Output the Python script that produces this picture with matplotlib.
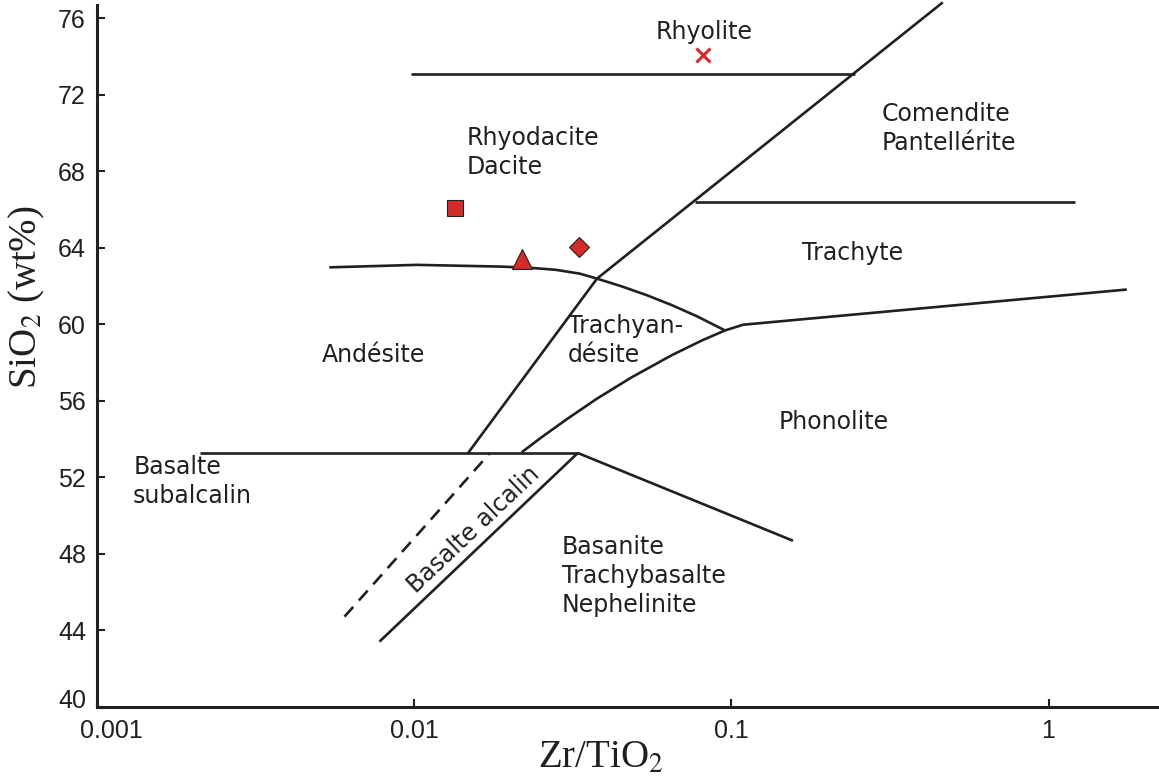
import numpy as np
import matplotlib.pyplot as plt
import matplotlib.transforms as mtransforms
from matplotlib.ticker import NullLocator, FixedLocator, FixedFormatter

plt.rcParams['mathtext.fontset'] = 'stix'

ink = '#231f20'
red = '#d52b2b'

# field boundaries, Zr/TiO2 vs SiO2 (wt%)
rhyolite_x = [0.0098, 0.245]
rhyolite_y = [73.1, 73.1]

diag_x = [0.01479, 0.0377, 0.464]
diag_y = [53.27, 62.39, 76.84]

comendite_x = [0.0767, 1.21]
comendite_y = [66.41, 66.41]

andesite_x = [0.0054, 0.0102, 0.0187, 0.0230, 0.0280, 0.0333, 0.0377, 0.0452, 0.0542, 0.0650, 0.0779, 0.0955]
andesite_y = [62.98, 63.11, 63.02, 62.96, 62.85, 62.65, 62.39, 61.98, 61.52, 61.00, 60.42, 59.68]

trachyand_x = [0.0218, 0.0252, 0.0303, 0.0376, 0.0485, 0.0648, 0.0806, 0.0955, 0.109, 1.766]
trachyand_y = [53.30, 54.09, 55.04, 56.10, 57.23, 58.38, 59.15, 59.68, 59.98, 61.82]

basalt_x = [0.00211, 0.0328]
basalt_y = [53.27, 53.27]

basanite_x = [0.0328, 0.1564]
basanite_y = [53.27, 48.68]

alcalin_x = [0.00777, 0.0328]
alcalin_y = [43.40, 53.27]

dashed_x = [0.00603, 0.01734]
dashed_y = [44.71, 53.27]

# samples
cross_x, cross_y = [0.0813], [74.07]
square_x, square_y = [0.01345], [66.09]
triangle_x, triangle_y = [0.0218], [63.42]
diamond_x, diamond_y = [0.0330], [64.03]

fig = plt.figure(figsize=(11.59, 7.77), dpi=100)
ax = fig.add_axes([0.0837, 0.0905, 0.9163, 0.903])
ax.set_xscale('log')
ax.set_xlim(0.001, 2.23)
ax.set_ylim(40, 76.7)

lw = 1.9
for xs, ys in [(rhyolite_x, rhyolite_y), (comendite_x, comendite_y), (andesite_x, andesite_y),
               (trachyand_x, trachyand_y), (basalt_x, basalt_y), (basanite_x, basanite_y),
               (alcalin_x, alcalin_y)]:
    ax.plot(xs, ys, color=ink, lw=lw, solid_capstyle='butt', solid_joinstyle='round')
ax.plot(diag_x, diag_y, color=ink, lw=lw, clip_on=False, solid_capstyle='butt')
ax.plot(dashed_x, dashed_y, color=ink, lw=lw, ls=(0, (5, 3.2)))

ax.plot(cross_x, cross_y, 'x', color=red, ms=10, mew=2.2)
ax.plot(square_x, square_y, 's', mfc=red, mec=ink, mew=0.8, ms=12)
ax.plot(triangle_x, triangle_y, '^', mfc=red, mec=ink, mew=0.8, ms=14)
ax.plot(diamond_x, diamond_y, 'D', mfc=red, mec=ink, mew=0.8, ms=10)

tfont = dict(family='DejaVu Sans', fontsize=17, color=ink, linespacing=1.27)
ax.text(0.0819, 75.27, 'Rhyolite', ha='center', va='center', **tfont)
ax.text(0.01467, 68.99, 'Rhyodacite\nDacite', ha='left', va='center', **tfont)
ax.text(0.298, 70.25, 'Comendite\nPantellérite', ha='left', va='center', **tfont)
ax.text(0.167, 63.75, 'Trachyte', ha='left', va='center', **tfont)
ax.text(0.0305, 59.15, 'Trachyan-\ndésite', ha='left', va='center', **tfont)
ax.text(0.00512, 58.41, 'Andésite', ha='left', va='center', **tfont)
ax.text(0.1413, 54.9, 'Phonolite', ha='left', va='center', **tfont)
ax.text(0.0013, 51.76, 'Basalte\nsubalcalin', ha='left', va='center', **tfont)
ax.text(0.0292, 46.84, 'Basanite\nTrachybasalte\nNephelinite', ha='left', va='center', **tfont)
ax.text(0.01543, 49.25, 'Basalte alcalin', ha='center', va='center', rotation=43.5, **tfont)

for s in ['top', 'right']:
    ax.spines[s].set_visible(False)
for s in ['left', 'bottom']:
    ax.spines[s].set_linewidth(2.2)
    ax.spines[s].set_color(ink)

ax.xaxis.set_major_locator(FixedLocator([0.001, 0.01, 0.1, 1]))
ax.xaxis.set_major_formatter(FixedFormatter(['0.001', '0.01', '0.1', '1']))
ax.xaxis.set_minor_locator(NullLocator())
ax.set_yticks(np.arange(40, 77, 4))
ax.tick_params(direction='in', length=6, width=1.5, color=ink, labelsize=18, labelcolor=ink)
ax.tick_params(axis='y', pad=8)
ax.tick_params(axis='x', pad=9)
for lab in ax.get_xticklabels() + ax.get_yticklabels():
    lab.set_family('Liberation Sans')

# lift "40" and push "0.001" right so the corner labels clear each other
lab40 = ax.yaxis.get_major_ticks()[0].label1
lab40.set_transform(lab40.get_transform() + mtransforms.ScaledTranslation(0, 6 / 72, fig.dpi_scale_trans))
lab001 = ax.xaxis.get_major_ticks()[0].label1
lab001.set_transform(lab001.get_transform() + mtransforms.ScaledTranslation(10 / 72, 0, fig.dpi_scale_trans))

fig.text(601 / 1159, (777 - 768) / 777, r'Zr/TiO$_2$', ha='center', va='baseline',
         family='Liberation Serif', fontsize=28, color=ink)
fig.text(27 / 1159, (777 - 297) / 777, r'SiO$_2$ (wt%)', ha='center', va='center', rotation=90,
         family='Liberation Serif', fontsize=28, color=ink)

fig.savefig('out.png', dpi=100)
